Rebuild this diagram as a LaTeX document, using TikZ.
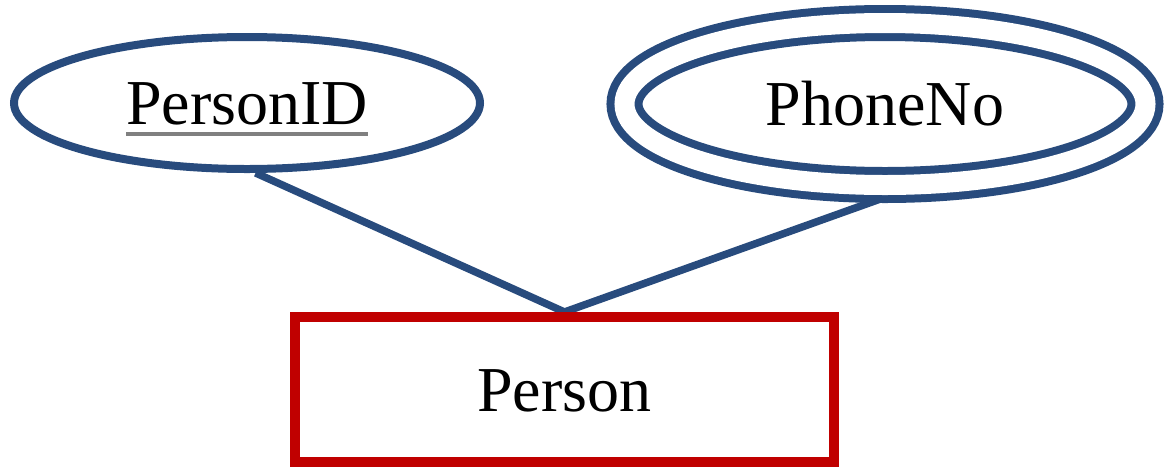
\documentclass[tikz,border=0pt]{standalone}
\usepackage{fontspec}
\setmainfont{Liberation Serif}
\usepackage{xcolor}
\usetikzlibrary{shapes.geometric, backgrounds}
\definecolor{erblue}{RGB}{40,75,125}
\definecolor{erred}{RGB}{192,0,0}
\newcommand\keyattr[1]{\setbox0\hbox{#1}\rlap{\color{black!50}\rule[-11pt]{\wd0}{4pt}}\box0}

\begin{document}
\begin{tikzpicture}[x=1pt, y=-1pt,
    attr/.style={ellipse, draw=erblue, line width=8pt, inner sep=0pt, text height=43pt, text depth=0pt, font=\fontsize{64}{70}\selectfont},
    entity/.style={rectangle, draw=erred, line width=10pt, inner sep=0pt, minimum width=539pt, minimum height=145pt, text height=43pt, text depth=0pt, font=\fontsize{64}{70}\selectfont},
    link/.style={draw=erblue, line width=7.5pt}]
    \useasboundingbox (0,0) rectangle (1167,472);

    % Entity
    \node[entity] (person) at (564.5,389.5) {Person};

    % Attributes
    \node[attr, minimum width=466pt, minimum height=132pt] (personid) at (247,103) {\keyattr{PersonID}};
    \node[attr, double=white, double distance=20pt, minimum width=521pt, minimum height=162pt] (phoneno) at (885,104) {PhoneNo};

    % Links (behind the shapes)
    \begin{scope}[on background layer]
    \draw[link] (personid.-83) -- (person.north) -- (phoneno.-74);
    \end{scope}

\end{tikzpicture}
\end{document}
